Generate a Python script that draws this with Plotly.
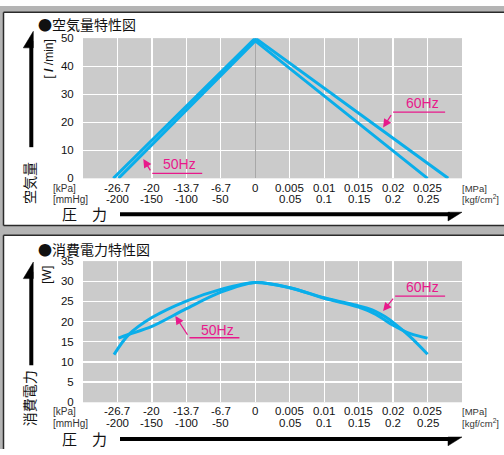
import plotly.graph_objects as go

W, H = 504, 455


def X(px):
    return px / W


def Y(py):
    return 1 - py / H


# ---------------- data ----------------
x_pos = [-4, -3, -2, -1, 0, 1, 2, 3, 4, 5]
tick_line1 = ["-26.7", "-20", "-13.7", "-6.7", "0", "0.005", "0.01", "0.015", "0.02", "0.025"]
tick_line2 = ["-200", "-150", "-100", "-50", "", "0.05", "0.1", "0.15", "0.2", "0.25"]

air_yticks = [0, 10, 20, 30, 40, 50]
pow_yticks = [0, 5, 10, 15, 20, 25, 30, 35]

air50_x = [-3.97, 0, 5.0]
air50_y = [0, 49, 0]
air60_x = [-4.12, 0, 5.6]
air60_y = [0, 50, 0]

pow60_x = [-4.1, -3.68, -3, -2, -1, 0, 1, 2, 3, 3.25, 3.5, 3.75, 4, 4.5, 5]
pow60_y = [11.8, 16.7, 21.0, 25.1, 28.0, 29.7, 28.4, 25.9, 23.9, 23.3, 22.5, 21.3, 19.8, 16.2, 11.9]
pow50_x = [-3.97, -3.68, -3, -2, -1, 0, 1, 2, 3, 3.5, 4, 4.5, 5]
pow50_y = [15.9, 16.8, 18.8, 23.2, 27.3, 29.7, 28.4, 25.8, 23.6, 21.8, 19.1, 17.0, 15.9]

LINE = "#0aaeea"
MAG = "#e8198b"
NUM = "Liberation Sans, Arial, sans-serif"
CJK = "Noto Sans CJK JP, Noto Sans CJK SC, sans-serif"
ARIAL = "Liberation Sans, Arial, sans-serif"

fig = go.Figure()

fig.add_trace(go.Scatter(x=air60_x, y=air60_y, mode="lines", line=dict(color=LINE, width=3),
                         xaxis="x", yaxis="y", showlegend=False, hoverinfo="skip"))
fig.add_trace(go.Scatter(x=air50_x, y=air50_y, mode="lines", line=dict(color=LINE, width=3),
                         xaxis="x", yaxis="y", showlegend=False, hoverinfo="skip"))
fig.add_trace(go.Scatter(x=pow60_x, y=pow60_y, mode="lines", line=dict(color=LINE, width=3, shape="spline", smoothing=0.9),
                         xaxis="x2", yaxis="y2", showlegend=False, hoverinfo="skip"))
fig.add_trace(go.Scatter(x=pow50_x, y=pow50_y, mode="lines", line=dict(color=LINE, width=3, shape="spline", smoothing=0.9),
                         xaxis="x2", yaxis="y2", showlegend=False, hoverinfo="skip"))

xcommon = dict(range=[-5, 6], tick0=0, dtick=1, showgrid=True, gridcolor="white", gridwidth=1.3,
               showticklabels=False, ticks="", showline=False, fixedrange=True)
ycommon = dict(showgrid=True, gridcolor="white", gridwidth=1.3, zeroline=False, showline=False,
               ticks="outside", ticklen=6, tickcolor="rgba(0,0,0,0)",
               tickfont=dict(family=NUM, size=11.5, color="#111"), fixedrange=True)

fig.update_layout(
    width=W, height=H, autosize=False,
    margin=dict(l=0, r=0, t=0, b=0),
    paper_bgcolor="white", plot_bgcolor="#cbcbcb",
    xaxis=dict(domain=[X(83), X(462)], anchor="y", zeroline=True, zerolinecolor="#a8a8a8", zerolinewidth=1.5, **xcommon),
    yaxis=dict(domain=[Y(177), Y(33)], anchor="x", range=[0, 50], tickvals=air_yticks, **ycommon),
    xaxis2=dict(domain=[X(83), X(462)], anchor="y2", zeroline=False, **xcommon),
    yaxis2=dict(domain=[Y(407), Y(262)], anchor="x2", range=[0, 35], tickvals=pow_yticks, **ycommon),
)

shapes = []
anns = []
GRAY = "#b4b4b4"
DARK = "#2a2a2a"

# frame
shapes.append(dict(type="rect", xref="paper", yref="paper", x0=0, x1=1, y0=Y(6.5), y1=1, fillcolor=GRAY, line_width=0, layer="below"))
shapes.append(dict(type="rect", xref="paper", yref="paper", x0=0, x1=1, y0=Y(235.5), y1=Y(225.5), fillcolor=GRAY, line_width=0, layer="below"))
shapes.append(dict(type="rect", xref="paper", yref="paper", x0=0, x1=X(3.5), y0=0, y1=1, fillcolor=GRAY, line_width=0, layer="below"))
for yy in (6.5, 225.5, 235.5):
    shapes.append(dict(type="line", xref="paper", yref="paper", x0=X(3.5), x1=1, y0=Y(yy), y1=Y(yy), line=dict(color=DARK, width=1.5)))
shapes.append(dict(type="line", xref="paper", yref="paper", x0=X(3.5), x1=X(3.5), y0=Y(225.5), y1=Y(6.5), line=dict(color=DARK, width=1.5)))
shapes.append(dict(type="line", xref="paper", yref="paper", x0=X(3.5), x1=X(3.5), y0=0, y1=Y(235.5), line=dict(color=DARK, width=1.5)))


def vert_arrow(tip, bottom):
    shapes.append(dict(type="line", xref="paper", yref="paper", x0=X(31.3), x1=X(31.3), y0=Y(bottom), y1=Y(tip + 10),
                       line=dict(color="black", width=4)))
    p = f"M {X(33.3)},{Y(tip)} L {X(33.3)},{Y(tip + 17)} L {X(23.3)},{Y(tip + 17)} Z"
    shapes.append(dict(type="path", xref="paper", yref="paper", path=p, fillcolor="black", line=dict(color="black", width=0.5)))


def horiz_arrow(yc):
    shapes.append(dict(type="line", xref="paper", yref="paper", x0=X(120), x1=X(450), y0=Y(yc), y1=Y(yc),
                       line=dict(color="black", width=4)))
    p = f"M {X(448)},{Y(yc - 2)} L {X(462)},{Y(yc - 2)} L {X(448)},{Y(yc + 7)} Z"
    shapes.append(dict(type="path", xref="paper", yref="paper", path=p, fillcolor="black", line=dict(color="black", width=0.5)))


vert_arrow(26, 145)
vert_arrow(263, 369)
horiz_arrow(213.8)
horiz_arrow(444.7)


def txt(text, px, py, size, family, xanchor="left", angle=0, color="#111"):
    anns.append(dict(text=text, xref="paper", yref="paper", x=X(px), y=Y(py), xanchor=xanchor, yanchor="middle",
                     showarrow=False, textangle=angle, font=dict(family=family, size=size, color=color)))


# titles and labels
txt("●空気量特性図", 36, 18.7, 14, CJK)
txt("●消費電力特性図", 36, 250, 14, CJK)
txt("空気量", 29, 181.7, 14, CJK, xanchor="center", angle=-90)
txt("消費電力", 28.5, 403.5, 14, CJK, xanchor="center", angle=-90)
txt("[ <b><i>l</i></b> /min]", 49, 55, 12, NUM, xanchor="center", angle=-90)
txt("[W]", 47, 276, 12, NUM, xanchor="center", angle=-90)
txt("圧　力", 84, 213.4, 15, CJK, xanchor="center")
txt("圧　力", 84, 444, 15, CJK, xanchor="center")

for (y1, y2) in ((187, 198.5), (416.3, 428.5)):
    txt("[kPa]", 51, y1, 10, NUM, color="#333")
    txt("[mmHg]", 51, y2, 10, NUM, color="#333")
    txt("[MPa]", 460, y1, 9.5, NUM, color="#333")
    txt("[kgf/cm<sup>2</sup>]", 460, y2, 9.5, NUM, color="#333")

# x tick labels (two rows), positioned on the data axes
for xref, (y1, y2) in (("x", (187, 198.5)), ("x2", (416.3, 428.5))):
    for xp, t1, t2 in zip(x_pos, tick_line1, tick_line2):
        anns.append(dict(text=t1, xref=xref, yref="paper", x=xp, y=Y(y1), xanchor="center", yanchor="middle",
                         showarrow=False, font=dict(family=NUM, size=11.5, color="#111")))
        if t2:
            anns.append(dict(text=t2, xref=xref, yref="paper", x=xp, y=Y(y2), xanchor="center", yanchor="middle",
                             showarrow=False, font=dict(family=NUM, size=11.5, color="#111")))


def callout(xr, yr, label, tip, start, ul_end, text_pos):
    anns.append(dict(text=" ", xref=xr, yref=yr, axref=xr, ayref=yr, x=tip[0], y=tip[1], ax=start[0], ay=start[1],
                     showarrow=True, arrowhead=2, arrowsize=1.3, arrowwidth=1.3, arrowcolor=MAG, standoff=0,
                     startstandoff=0, font=dict(size=2)))
    shapes.append(dict(type="line", xref=xr, yref=yr, x0=start[0], x1=ul_end, y0=start[1], y1=start[1],
                       line=dict(color=MAG, width=1.3)))
    anns.append(dict(text=label, xref=xr, yref=yr, x=text_pos[0], y=text_pos[1], xanchor="center", yanchor="middle",
                     showarrow=False, font=dict(family=ARIAL, size=14, color=MAG)))


callout("x", "y", "60Hz", (3.71, 18.1), (4.0, 23.6), 5.51, (4.84, 26.9))
callout("x", "y", "50Hz", (-3.25, 6.9), (-2.99, 1.74), -1.54, (-2.2, 5.0))
callout("x2", "y2", "50Hz", (-2.32, 21.4), (-1.91, 16.0), -0.46, (-1.1, 18.0))
callout("x2", "y2", "60Hz", (3.71, 22.6), (4.06, 26.3), 5.51, (4.84, 28.7))

fig.update_layout(shapes=shapes, annotations=anns)
fig.write_html("out.html", config={"displayModeBar": False, "staticPlot": True},
               post_script="document.body.style.margin='0';document.body.style.overflow='hidden';")
